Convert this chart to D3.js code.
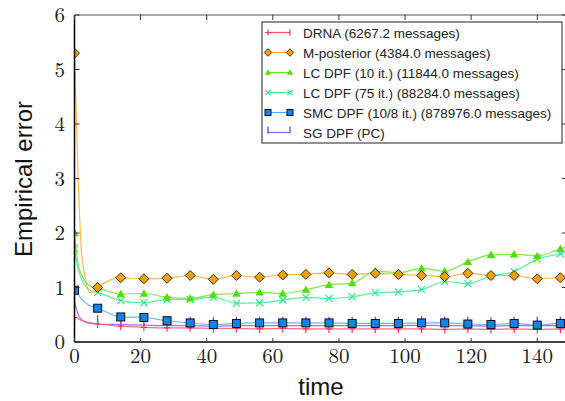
<!DOCTYPE html>
<html>
<head>
<meta charset="utf-8">
<script src="https://cdn.jsdelivr.net/npm/d3@7"></script>
<style>
  body { margin: 0; background: #fff; }
  svg { display: block; }
</style>
</head>
<body>
<div id="main-chart"></div>
<script>
// marker times (every 7 steps) and extra line-only times
var markerT = [0, 7, 14, 21, 28, 35, 42, 49, 56, 63, 70, 77, 84, 91, 98, 105, 112, 119, 126, 133, 140, 147];
var extraT = [1, 2, 3, 4, 5, 149];

var drnaVals = [0.45, 0.33, 0.29, 0.27, 0.26, 0.26, 0.25, 0.25, 0.24, 0.25, 0.24, 0.24, 0.24, 0.24, 0.24, 0.24, 0.23, 0.24, 0.23, 0.24, 0.23, 0.24];
var drnaExtra = [0.43, 0.40, 0.38, 0.36, 0.35, 0.24];

var mpostVals = [5.30, 1.00, 1.18, 1.16, 1.17, 1.22, 1.15, 1.22, 1.19, 1.23, 1.24, 1.27, 1.24, 1.26, 1.24, 1.22, 1.20, 1.26, 1.22, 1.22, 1.16, 1.18];
var mpostExtra = [3.2, 1.75, 1.25, 0.98, 0.90, 1.18];

var lc10Vals = [2.00, 0.99, 0.88, 0.89, 0.82, 0.80, 0.87, 0.89, 0.91, 0.89, 0.96, 1.05, 1.08, 1.30, 1.27, 1.35, 1.30, 1.47, 1.60, 1.61, 1.58, 1.71];
var lc10Extra = [1.45, 1.25, 1.14, 1.06, 1.02, 1.75];

var lc75Vals = [1.72, 0.91, 0.76, 0.72, 0.78, 0.78, 0.82, 0.71, 0.72, 0.77, 0.82, 0.80, 0.83, 0.90, 0.92, 0.96, 1.11, 1.07, 1.21, 1.29, 1.52, 1.62];
var lc75Extra = [1.36, 1.18, 1.05, 0.98, 0.94, 1.65];

var smcVals = [0.95, 0.62, 0.46, 0.45, 0.39, 0.35, 0.32, 0.34, 0.35, 0.35, 0.35, 0.35, 0.34, 0.34, 0.34, 0.35, 0.35, 0.33, 0.32, 0.34, 0.31, 0.34];
var smcExtra = [0.88, 0.80, 0.74, 0.69, 0.66, 0.34];

var sgVals = [0.75, 0.33, 0.32, 0.31, 0.30, 0.30, 0.29, 0.30, 0.30, 0.30, 0.30, 0.30, 0.30, 0.30, 0.30, 0.31, 0.30, 0.30, 0.29, 0.30, 0.30, 0.30];
var sgExtra = [0.52, 0.42, 0.37, 0.35, 0.34, 0.30];

var legendLabels = [
  "DRNA (6267.2 messages)",
  "M-posterior (4384.0 messages)",
  "LC DPF (10 it.) (11844.0 messages)",
  "LC DPF (75 it.) (88284.0 messages)",
  "SMC DPF (10/8 it.) (878976.0 messages)",
  "SG DPF (PC)"
];
var xTicks = [0, 20, 40, 60, 80, 100, 120, 140];
var yTicks = [0, 1, 2, 3, 4, 5, 6];

var width = 565, height = 401;
var pLeft = 74.5, pRight = 567, pTop = 15, pBottom = 342;

var svg = d3.select("#main-chart").append("svg")
  .attr("width", width).attr("height", height);

var x = d3.scaleLinear().domain([0, 149]).range([pLeft, pRight]);
var y = d3.scaleLinear().domain([0, 6]).range([pBottom, pTop]);

function pts(vals, extra) {
  var a = markerT.map(function(t, i) { return [t, vals[i]]; });
  extraT.forEach(function(t, i) { a.push([t, extra[i]]); });
  return a.sort(function(p, q) { return p[0] - q[0]; });
}

var series = [
  { vals: drnaVals, extra: drnaExtra, line: "#ff5570", mark: "plus", color: "#ff3355" },
  { vals: mpostVals, extra: mpostExtra, line: "#ffad2a", mark: "diamond", color: "#f2a100" },
  { vals: lc10Vals, extra: lc10Extra, line: "#66e62a", mark: "triangle", color: "#4ee000" },
  { vals: lc75Vals, extra: lc75Extra, line: "#3aec8e", mark: "cross", color: "#2fe98a" },
  { vals: smcVals, extra: smcExtra, line: "#55a8f5", mark: "square", color: "#1283ec" },
  { vals: sgVals, extra: sgExtra, line: "#8a5cff", mark: "bar", color: "#7a3cff" }
];

svg.append("clipPath").attr("id", "clip")
  .append("rect").attr("x", pLeft).attr("y", pTop)
  .attr("width", pRight - pLeft).attr("height", pBottom - pTop);

var lineGen = d3.line()
  .x(function(d) { return x(d[0]); })
  .y(function(d) { return y(d[1]); })
  .curve(d3.curveMonotoneX);

var plot = svg.append("g").attr("clip-path", "url(#clip)");

function drawMarker(g, s, cx, cy, small) {
  var k = small ? 0.75 : 1;
  var r;
  if (s.mark == "plus") {
    g.append("path").attr("d", "M" + (cx - 3) + "," + cy + "H" + (cx + 3) + "M" + cx + "," + (cy - 4 * k) + "V" + (cy + 4 * k))
      .attr("stroke", s.color).attr("stroke-width", 1.2).attr("fill", "none");
  } else if (s.mark == "diamond") {
    r = 5 * k;
    g.append("path").attr("d", "M" + cx + "," + (cy - r) + "L" + (cx + r) + "," + cy + "L" + cx + "," + (cy + r) + "L" + (cx - r) + "," + cy + "Z")
      .attr("fill", s.color).attr("stroke", "#3a3020").attr("stroke-width", 1);
  } else if (s.mark == "triangle") {
    r = 4.2 * k;
    g.append("path").attr("d", "M" + cx + "," + (cy - r) + "L" + (cx + r) + "," + (cy + r * 0.75) + "L" + (cx - r) + "," + (cy + r * 0.75) + "Z")
      .attr("fill", s.color);
  } else if (s.mark == "cross") {
    r = 3.5 * k;
    g.append("path").attr("d", "M" + (cx - r) + "," + (cy - r) + "L" + (cx + r) + "," + (cy + r) + "M" + (cx - r) + "," + (cy + r) + "L" + (cx + r) + "," + (cy - r))
      .attr("stroke", s.color).attr("stroke-width", 1.2).attr("fill", "none");
  } else if (s.mark == "square") {
    r = 4 * k;
    g.append("rect").attr("x", cx - r).attr("y", cy - r).attr("width", 2 * r).attr("height", 2 * r)
      .attr("fill", s.color).attr("stroke", "#111").attr("stroke-width", 1);
  } else if (s.mark == "bar") {
    var h = small ? 6 : 9;
    g.append("path").attr("d", "M" + cx + "," + (cy + 1) + "V" + (cy - h))
      .attr("stroke", s.color).attr("stroke-width", 1.3).attr("fill", "none");
  }
}

// draw from bottom series upward so the orange sits on top like the original
[5, 0, 4, 3, 2, 1].forEach(function(k) {
  var s = series[k];
  plot.append("path")
    .datum(pts(s.vals, s.extra))
    .attr("d", lineGen)
    .attr("fill", "none")
    .attr("stroke", s.line)
    .attr("stroke-width", 1.2)
    .attr("stroke-opacity", 0.85);
  var mg = plot.append("g");
  markerT.forEach(function(t, i) {
    drawMarker(mg, s, x(t), y(s.vals[i]), false);
  });
});

// frame
var frame = svg.append("g");
frame.append("line").attr("x1", pLeft).attr("x2", pRight).attr("y1", pTop).attr("y2", pTop)
  .attr("stroke", "#555").attr("stroke-width", 1.2);
frame.append("line").attr("x1", pRight).attr("x2", pRight).attr("y1", pTop).attr("y2", pBottom)
  .attr("stroke", "#555").attr("stroke-width", 1.2);
frame.append("line").attr("x1", pLeft).attr("x2", pRight).attr("y1", pBottom).attr("y2", pBottom)
  .attr("stroke", "#444").attr("stroke-width", 1.8);
frame.append("line").attr("x1", pLeft).attr("x2", pLeft).attr("y1", pTop).attr("y2", pBottom)
  .attr("stroke", "#000").attr("stroke-width", 1.5);

// ticks pointing inward
xTicks.forEach(function(t) {
  frame.append("line").attr("x1", x(t)).attr("x2", x(t)).attr("y1", pBottom).attr("y2", pBottom - 4)
    .attr("stroke", "#333");
  frame.append("line").attr("x1", x(t)).attr("x2", x(t)).attr("y1", pTop).attr("y2", pTop + 5)
    .attr("stroke", "#333");
});
yTicks.forEach(function(v) {
  frame.append("line").attr("x1", pLeft).attr("x2", pLeft + 5).attr("y1", y(v)).attr("y2", y(v))
    .attr("stroke", "#333");
  frame.append("line").attr("x1", pRight).attr("x2", pRight - 5).attr("y1", y(v)).attr("y2", y(v))
    .attr("stroke", "#333");
});

var serif = "'Latin Modern Roman', 'Liberation Serif', 'DejaVu Serif', serif";
var sans = "'Liberation Sans', Arial, Helvetica, sans-serif";

svg.append("g").selectAll("text").data(xTicks).enter().append("text")
  .attr("x", function(d) { return x(d); })
  .attr("y", 363)
  .attr("text-anchor", "middle")
  .attr("font-family", serif).attr("font-size", 21).attr("fill", "#222")
  .text(function(d) { return d; });

svg.append("g").selectAll("text").data(yTicks).enter().append("text")
  .attr("x", 65)
  .attr("y", function(d) { return y(d); })
  .attr("dy", "0.35em")
  .attr("text-anchor", "end")
  .attr("font-family", serif).attr("font-size", 21).attr("fill", "#222")
  .text(function(d) { return d; });

svg.append("text")
  .attr("x", 321).attr("y", 395)
  .attr("text-anchor", "middle")
  .attr("font-family", sans).attr("font-size", 24).attr("fill", "#111")
  .text("time");

svg.append("text")
  .attr("transform", "translate(31.5,179) rotate(-90)")
  .attr("text-anchor", "middle")
  .attr("font-family", sans).attr("font-size", 24).attr("fill", "#111")
  .text("Empirical error");

// legend
var legend = svg.append("g");
legend.append("rect")
  .attr("x", 262).attr("y", 22).attr("width", 300).attr("height", 121)
  .attr("fill", "#fff").attr("stroke", "#222").attr("stroke-width", 1);

legendLabels.forEach(function(lab, i) {
  var s = series[i];
  var cy = 32.5 + i * 20;
  legend.append("line").attr("x1", 267).attr("x2", 290).attr("y1", cy).attr("y2", cy)
    .attr("stroke", s.line).attr("stroke-width", 1.2);
  drawMarker(legend, s, 268, cy, true);
  if (s.mark == "plus") {
    legend.append("line").attr("x1", 290).attr("x2", 290).attr("y1", cy - 3).attr("y2", cy + 3)
      .attr("stroke", s.color).attr("stroke-width", 1.2);
  } else {
    drawMarker(legend, s, 290, cy, true);
  }
  legend.append("text")
    .attr("x", 303).attr("y", cy + 5)
    .attr("font-family", sans).attr("font-size", 13.5).attr("fill", "#222")
    .text(lab);
});
</script>
</body>
</html>
